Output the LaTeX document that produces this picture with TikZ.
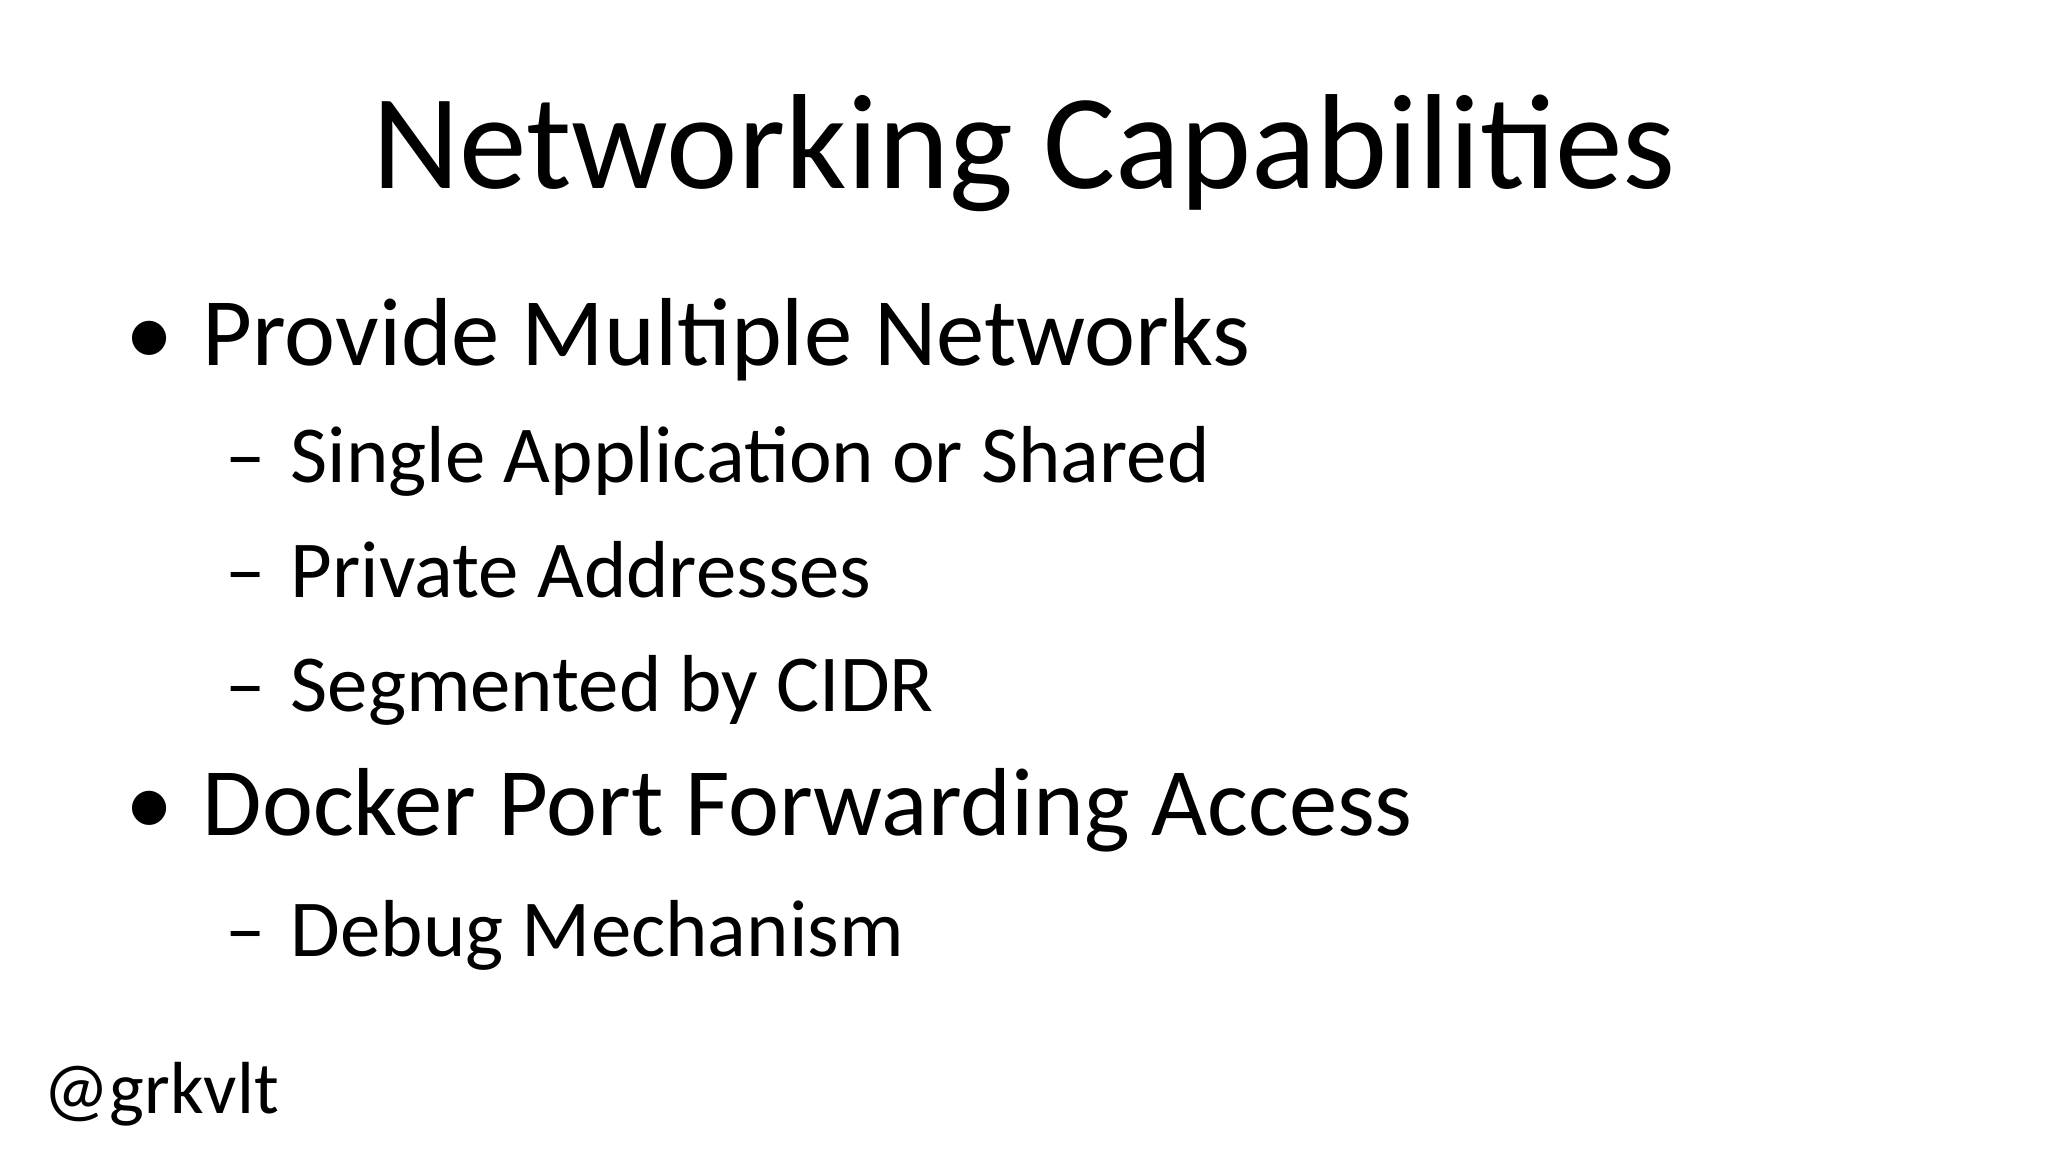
\documentclass[tikz,border=0pt]{standalone}
\usepackage{fontspec}
\setmainfont{Carlito}
\begin{document}
\begin{tikzpicture}[
  lone/.style={anchor=base west,inner sep=0pt,font=\fontsize{27.5}{33}\selectfont},
  ltwo/.style={anchor=base west,inner sep=0pt,font=\fontsize{23}{28}\selectfont}]
\useasboundingbox[fill=white] (0,0) rectangle (20.48,11.52);
\node[anchor=base,inner sep=0pt,font=\fontsize{38.5}{46}\selectfont] (title) at (10.24,9.63) {Networking Capabilities};
\node[lone] (b1) at (1.25,7.86) {•};
\node[lone] (t1) at (2.02,7.86) {Provide Multiple Networks};
\node[ltwo] (d1) at (2.25,6.69) {–};
\node[ltwo] (s1) at (2.90,6.69) {Single Application or Shared};
\node[ltwo] (d2) at (2.25,5.54) {–};
\node[ltwo] (s2) at (2.90,5.54) {Private Addresses};
\node[ltwo] (d3) at (2.25,4.40) {–};
\node[ltwo] (s3) at (2.90,4.40) {Segmented by CIDR};
\node[lone] (b2) at (1.25,3.16) {•};
\node[lone] (t2) at (2.02,3.16) {Docker Port Forwarding Access};
\node[ltwo] (d4) at (2.25,1.95) {–};
\node[ltwo] (s4) at (2.90,1.95) {Debug Mechanism};
\node[anchor=base west,inner sep=0pt,font=\fontsize{21}{25}\selectfont] (h) at (0.43,0.38) {@grkvlt};
\end{tikzpicture}
\end{document}
